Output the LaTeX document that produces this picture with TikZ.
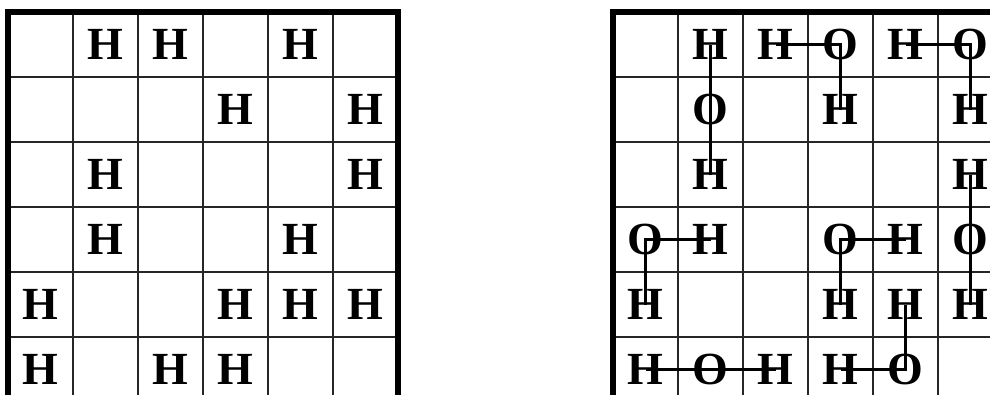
\documentclass[tikz,border=0pt]{standalone}
\usepackage{fontspec}
\setmainfont{Liberation Serif}[BoldFont={Liberation Serif Bold}]
\begin{document}
\begin{tikzpicture}[x=1pt,y=-1pt,
  cellline/.style={line width=1.2pt, black!85},
  border/.style={line width=6pt, line cap=rect},
  atom/.style={font=\fontsize{46}{46}\selectfont\bfseries, inner sep=0pt},
  bond/.style={line width=2.8pt, line join=miter, yshift=-2pt}]
\useasboundingbox (0,0) rectangle (990,394);
\clip (0,0) rectangle (990,394);
% grids
\foreach \gx in {8,613}{
  \foreach \k in {1,...,5}{
    \draw[cellline] ({\gx+65*\k},12) -- ({\gx+65*\k},402);
    \draw[cellline] (\gx,{12+65*\k}) -- ({\gx+390},{12+65*\k});
  }
  \draw[border] (\gx,12) rectangle ({\gx+390},402);
}
% left grid
\foreach \r/\c in {0/1,0/2,0/4,1/3,1/5,2/1,2/5,3/1,3/4,4/0,4/3,4/4,4/5,5/0,5/2,5/3}{
  \node[atom] (L\r\c) at ({8+65*\c+32.5},{12+65*\r+32.5}) {H};
}
% right grid
\foreach \r/\c/\t in {0/1/H,0/2/H,0/3/O,0/4/H,0/5/O,
  1/1/O,1/3/H,1/5/H,
  2/1/H,2/5/H,
  3/0/O,3/1/H,3/3/O,3/4/H,3/5/O,
  4/0/H,4/3/H,4/4/H,4/5/H,
  5/0/H,5/1/O,5/2/H,5/3/H,5/4/O}{
  \node[atom] (R\r\c) at ({613+65*\c+32.5},{12+65*\r+32.5}) {\t};
}
% bonds
\draw[bond] (R01.center) -- (R11.center) -- (R21.center);
\draw[bond] (R02.center) -- (R03.center) -- (R13.center);
\draw[bond] (R04.center) -- (R05.center) -- (R15.center);
\draw[bond] (R31.center) -- (R30.center) -- (R40.center);
\draw[bond] (R34.center) -- (R33.center) -- (R43.center);
\draw[bond] (R25.center) -- (R35.center) -- (R45.center);
\draw[bond] (R50.center) -- (R51.center) -- (R52.center);
\draw[bond] (R53.center) -- (R54.center) -- (R44.center);
\end{tikzpicture}
\end{document}
